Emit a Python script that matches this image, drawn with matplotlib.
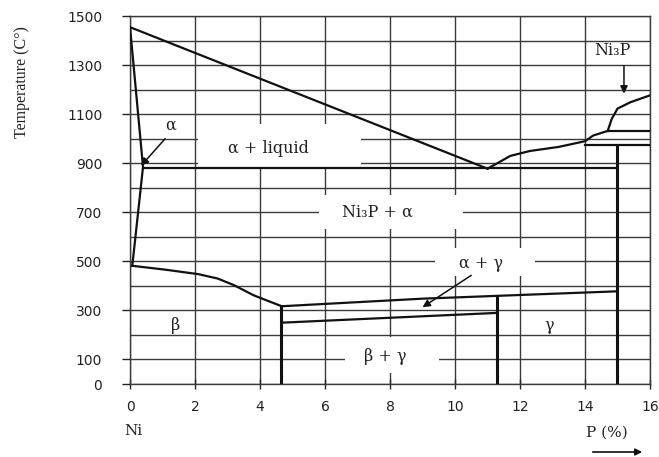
import matplotlib
matplotlib.use("Agg")
import matplotlib.pyplot as plt
from matplotlib.patches import Rectangle, FancyArrowPatch

# phase boundaries of the Ni-P diagram (P in wt %, T in deg C)
liquidus_x = [0, 11.0]
liquidus_t = [1455, 878]
liq_right_x = [11.0, 11.3, 11.7, 12.3, 13.2, 14.0, 14.25, 14.7, 14.82, 15.0, 15.4, 16.0]
liq_right_t = [878, 900, 930, 950, 967, 990, 1013, 1032, 1080, 1123, 1149, 1177]
alpha_x = [0, 0.4, 0.07]
alpha_t = [1455, 885, 482]
beta_x = [0.07, 1.1, 2.1, 2.7, 3.2, 3.8, 4.65]
beta_t = [482, 466, 448, 430, 403, 362, 318]
ag_x = [4.65, 9.0, 15.0]
ag_t = [317, 348, 378]
bg_x = [4.65, 11.3]
bg_t = [250, 290]
eutectic_x = [0.4, 15.0]
eutectic_t = [880, 880]
ni3p_top_x = [14.0, 16.0]
ni3p_top_t = [975, 975]
ni3p_upper_x = [14.7, 16.0]
ni3p_upper_t = [1032, 1032]
# vertical boundaries: (x, top T)
verticals = [(4.65, 318), (11.3, 360), (15.0, 975)]

# region labels: text, x, T
labels = [("α + liquid", 4.25, 962), ("Ni₃P + α", 7.6, 702), ("α + γ", 10.8, 492),
          ("β", 1.4, 240), ("β + γ", 7.85, 112), ("γ", 12.9, 240), ("α", 1.25, 1055),
          ("Ni₃P", 14.85, 1360)]
# blank areas behind labels: x0, x1, T0, T1
blanks = [(2.1, 7.1, 884, 1060), (5.8, 10.25, 632, 770), (9.4, 12.45, 442, 556),
          (6.6, 9.5, 45, 190)]
# arrows: (start x, start T, tip x, tip T)
arrows = [(1.08, 1000, 0.34, 890), (10.5, 443, 9.0, 313), (15.2, 1298, 15.2, 1184)]

xticks = list(range(0, 17, 2))
yticks = [0, 100, 300, 500, 700, 900, 1100, 1300, 1500]
ygrid = list(range(0, 1501, 100))

fig = plt.figure(figsize=(6.59, 4.57), dpi=100)
ax = fig.add_axes([0.1973, 0.1597, 0.789, 0.805])
ax.set_xlim(0, 16)
ax.set_ylim(0, 1500)

ax.set_xticks(xticks)
ax.set_yticks(yticks)
ax.set_yticks(ygrid, minor=True)
ax.tick_params(axis="y", which="major", direction="out", length=6, width=1, pad=14,
               labelsize=10, colors="#222")
ax.tick_params(axis="y", which="minor", length=0)
ax.tick_params(axis="x", direction="inout", length=7, width=1, pad=8,
               labelsize=10, colors="#222")
for lab in ax.get_xticklabels() + ax.get_yticklabels():
    lab.set_family("DejaVu Sans")
ax.set_axisbelow(True)
ax.grid(True, which="both", color="#3a3a3a", lw=1.0)
for s in ax.spines.values():
    s.set_color("#3a3a3a")
    s.set_linewidth(1.0)

for x0, x1, t0, t1 in blanks:
    ax.add_patch(Rectangle((x0, t0), x1 - x0, t1 - t0, facecolor="white",
                           edgecolor="none", zorder=1))

lw = 1.6
for xs, ts in [(liquidus_x, liquidus_t), (liq_right_x, liq_right_t), (alpha_x, alpha_t),
               (beta_x, beta_t), (ag_x, ag_t), (bg_x, bg_t), (eutectic_x, eutectic_t),
               (ni3p_top_x, ni3p_top_t), (ni3p_upper_x, ni3p_upper_t)]:
    ax.plot(xs, ts, color="#111", lw=lw, zorder=3, solid_joinstyle="round")
for vx, vt in verticals:
    ax.plot([vx, vx], [0, vt], color="#111", lw=2.2, zorder=3)

for txt, x, t in labels:
    ax.text(x, t, txt, ha="center", va="center", fontsize=11.5,
            family="DejaVu Serif", color="#222", zorder=4)
for x0, t0, x1, t1 in arrows:
    ax.annotate("", xy=(x1, t1), xytext=(x0, t0),
                arrowprops=dict(arrowstyle="-|>", color="#111", lw=1.1,
                                mutation_scale=11, shrinkA=0, shrinkB=0), zorder=4)

fig.text(22 / 659, 1 - 82 / 457, "Temperature (C°)", rotation=90, ha="center",
         va="center", fontsize=11.5, family="Liberation Serif", color="#222")
fig.text(133 / 659, 1 - 431 / 457, "Ni", ha="center", va="center", fontsize=11,
         family="DejaVu Serif", color="#222")
fig.text(607 / 659, 1 - 433 / 457, "P (%)", ha="center", va="center", fontsize=11,
         family="DejaVu Serif", color="#222")
fig.add_artist(FancyArrowPatch(
    (590 / 659, 1 - 452 / 457), (645 / 659, 1 - 452 / 457), transform=fig.transFigure,
    arrowstyle="-|>", mutation_scale=10, color="#111", lw=1.2))

fig.savefig("out.png", dpi=100)
